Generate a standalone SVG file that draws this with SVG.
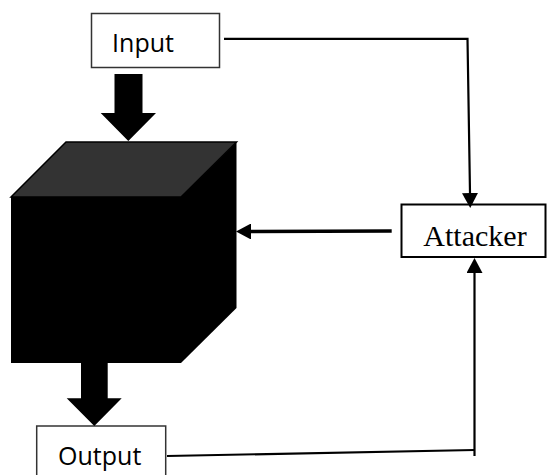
<svg xmlns="http://www.w3.org/2000/svg" width="550" height="475" viewBox="0 0 550 475">
  <defs>
    <style>
      .box { fill: #ffffff; stroke: #333333; stroke-width: 1.5; }
      .box2 { fill: #ffffff; stroke: #000000; stroke-width: 2; }
      .sans { font-family: "Open Sans", "Liberation Sans", sans-serif; font-size: 25px; fill: #000000; text-anchor: middle; }
      .serif { font-family: "Liberation Serif", "Times New Roman", serif; font-size: 30px; fill: #000000; text-anchor: middle; }
      .conn { fill: none; stroke: #000000; stroke-width: 2.2; }
      .thick { stroke-width: 3.5; }
      .big { fill: #000000; }
    </style>
    <marker id="ah" viewBox="0 0 15 16" refX="0" refY="8" markerWidth="15" markerHeight="16" markerUnits="userSpaceOnUse" orient="auto">
      <path d="M0,0 L15,8 L0,16 Z" fill="#000000"/>
    </marker>
  </defs>

  <g id="input">
    <rect class="box" x="91.5" y="13.5" width="128" height="54"/>
    <text class="sans" x="143" y="52.3">Input</text>
  </g>

  <g id="blackbox">
    <rect x="11" y="197" width="170" height="166" fill="#000000"/>
    <polygon points="181,197 236.5,142 236.5,308 181,363" fill="#000000"/>
    <polygon points="11,197 66,142 236.5,142 181,197" fill="#333333" stroke="#000000" stroke-width="1.5"/>
  </g>

  <g id="attacker">
    <rect class="box2" x="401.5" y="204.5" width="144" height="52.5"/>
    <text class="serif" x="475" y="245.7">Attacker</text>
  </g>

  <g id="output">
    <rect class="box" x="36.7" y="426" width="129" height="60"/>
    <text class="sans" x="99.7" y="465">Output</text>
  </g>

  <g id="connectors">
    <polygon class="big" points="114.5,74 142.5,74 142.5,113 156,113 128.3,141 100.7,113 114.5,113"/>
    <polygon class="big" points="81,362 107.7,362 107.7,398.3 121.7,398.3 94.3,426 66.7,398.3 81,398.3"/>
    <path class="conn" d="M224,38.8 H467.5 L470,193" marker-end="url(#ah)"/>
    <path class="conn thick" d="M391.7,231 L251,231.5" marker-end="url(#ah)"/>
    <path class="conn" d="M167,456 L474.5,450"/>
    <path class="conn" d="M474.5,456 V273" marker-end="url(#ah)"/>
  </g>
</svg>
